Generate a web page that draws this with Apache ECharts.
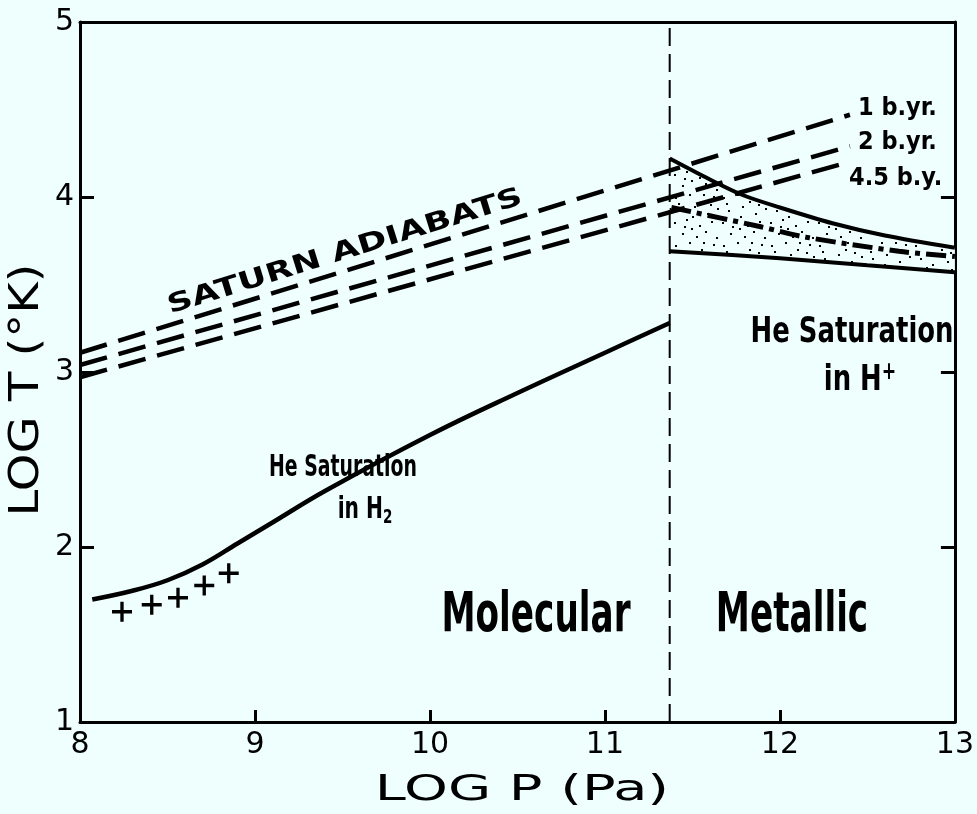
<!DOCTYPE html>
<html><head><meta charset="utf-8">
<script src="https://cdn.jsdelivr.net/npm/echarts@6/dist/echarts.min.js"></script>
<style>html,body{margin:0;padding:0;background:#effffe}#c{width:977px;height:814px}</style>
</head><body><div id="c"></div>
<script>
// ---- data (LOG P in Pa, LOG T in K) ----
const xRange = [8, 13];
const yRange = [1, 5];
const adiabat1by = [[8, 3.11], [12.4, 4.47]];
const adiabat2by = [[8, 3.04], [12.4, 4.29]];
const adiabat45by = [[8, 2.97], [12.36, 4.19]];
const heSatH2 = [[8.07, 1.70], [8.3, 1.75], [8.5, 1.81], [8.7, 1.90], [8.9, 2.02], [9.1, 2.14], [9.4, 2.32], [10, 2.64], [10.5, 2.88], [11, 3.11], [11.37, 3.28]];
const crossPts = [[8.24, 1.63], [8.41, 1.67], [8.56, 1.71], [8.71, 1.78], [8.85, 1.85]];
const transitionP = 11.37;
const heSatUpper = [[11.37, 4.22], [11.6, 4.10], [11.79, 4.01], [12.0, 3.94], [12.3, 3.85], [12.6, 3.78], [13, 3.71]];
const heSatLower = [[11.37, 3.69], [12.0, 3.65], [12.5, 3.61], [13, 3.57]];
const interior45 = [[11.38, 3.94], [11.89, 3.83], [12.15, 3.77], [12.68, 3.69], [13, 3.66]];

const INK = '#000';
const BG = '#effffe';
const narrow = "'Liberation Sans Narrow','DejaVu Sans Condensed','Arial Narrow',sans-serif";

function stipple() {
  const c = document.createElement('canvas');
  c.width = 48; c.height = 48;
  const g = c.getContext('2d');
  g.fillStyle = BG; g.fillRect(0, 0, 48, 48);
  g.fillStyle = '#000';
  const dots = [[3,5],[17,2],[29,9],[41,4],[8,18],[22,14],[35,21],[45,16],[2,30],[14,27],[27,33],[39,29],[10,41],[24,44],[33,39],[44,45],[19,36],[6,11],[31,2],[12,34],[38,12],[20,24]];
  dots.forEach(([x, y]) => g.fillRect(x, y, 2, 2));
  return c;
}

const chart = echarts.init(document.getElementById('c'), null, {renderer: 'canvas'});
const dash = (w, t) => ({color: INK, width: w, type: t});

chart.setOption({
  backgroundColor: BG,
  animation: false,
  grid: {left: 80, right: 14, top: 22, bottom: 92, show: false},
  xAxis: [{
    type: 'value', min: xRange[0], max: xRange[1], interval: 1,
    axisLine: {lineStyle: {color: INK, width: 3}},
    axisTick: {inside: true, length: 12, lineStyle: {color: INK, width: 3}},
    axisLabel: {color: INK, fontSize: 30, margin: 8, fontFamily: 'DejaVu Sans'},
    splitLine: {show: false}
  }, {
    type: 'value', position: 'top', min: xRange[0], max: xRange[1],
    axisLine: {show: true, lineStyle: {color: INK, width: 3}},
    axisTick: {show: false}, axisLabel: {show: false}, splitLine: {show: false}
  }],
  yAxis: [{
    type: 'value', min: yRange[0], max: yRange[1], interval: 1,
    axisLine: {show: true, lineStyle: {color: INK, width: 3}},
    axisTick: {inside: true, length: 14, lineStyle: {color: INK, width: 3}},
    axisLabel: {color: INK, fontSize: 30, margin: 6, fontFamily: 'DejaVu Sans'},
    splitLine: {show: false}
  }, {
    type: 'value', position: 'right', min: yRange[0], max: yRange[1], interval: 1,
    axisLine: {show: true, lineStyle: {color: INK, width: 3}},
    axisTick: {inside: true, length: 14, lineStyle: {color: INK, width: 3}},
    axisLabel: {show: false}, splitLine: {show: false}
  }],
  series: [
    {
      type: 'custom', name: 'band', z: 1,
      data: [0],
      renderItem: function (params, api) {
        const pts = heSatUpper.map(p => api.coord(p))
          .concat(heSatLower.slice().reverse().map(p => api.coord(p)));
        return {type: 'polygon', shape: {points: pts},
          style: {fill: {image: stipple(), repeat: 'repeat'}, stroke: null}};
      }
    },
    {type: 'line', name: '1 b.yr.', data: adiabat1by, symbol: 'none', lineStyle: dash(4.5, [28, 12]), z: 3},
    {type: 'line', name: '2 b.yr.', data: adiabat2by, symbol: 'none', lineStyle: dash(4.5, [28, 12]), z: 3},
    {type: 'line', name: '4.5 b.y.', data: adiabat45by, symbol: 'none', lineStyle: dash(4.5, [28, 12]), z: 3},
    {type: 'line', name: 'He sat H2', data: heSatH2, symbol: 'none', smooth: 0.4, lineStyle: dash(4.5, 'solid'), z: 3},
    {type: 'scatter', name: 'cross', data: crossPts, symbol: 'path://M-1,-6h2v5h5v2h-5v5h-2v-5h-5v-2h5z', symbolSize: 20, itemStyle: {color: INK, opacity: 1}, z: 4},
    {type: 'line', name: 'boundary', data: [[transitionP, yRange[0]], [transitionP, yRange[1]]], symbol: 'none', lineStyle: dash(2, [18, 8]), z: 3},
    {type: 'line', name: 'upper', data: heSatUpper, symbol: 'none', smooth: 0.3, lineStyle: dash(4, 'solid'), z: 3},
    {type: 'line', name: 'lower', data: heSatLower, symbol: 'none', smooth: 0.3, lineStyle: dash(4, 'solid'), z: 3},
    {type: 'line', name: 'interior', data: interior45, symbol: 'none', smooth: 0.3, lineStyle: dash(5, [20, 6, 5, 6]), z: 3}
  ],
  graphic: [
    {type: 'text', x: 28, y: 390, rotation: Math.PI / 2, scaleX: 1.2, z: 10,
      style: {text: 'LOG T (°K)', font: '40px "DejaVu Sans"', fill: INK, align: 'center', verticalAlign: 'middle'}},
    {type: 'text', x: 522, y: 791, scaleX: 1.55, z: 10,
      style: {text: 'LOG P (Pa)', font: '36px "DejaVu Sans"', fill: INK, align: 'center', verticalAlign: 'middle'}},
    {type: 'text', x: 345, y: 252, rotation: 0.302, scaleX: 1.36, z: 10,
      style: {text: 'SATURN ADIABATS', font: 'bold 26px "DejaVu Sans"', fill: INK, align: 'center', verticalAlign: 'middle'}},
    {type: 'text', x: 858, y: 108, z: 10,
      style: {text: '1 b.yr.', font: 'bold 25px ' + narrow, fill: INK, align: 'left', verticalAlign: 'middle'}},
    {type: 'text', x: 858, y: 142, z: 10,
      style: {text: '2 b.yr.', font: 'bold 25px ' + narrow, fill: INK, align: 'left', verticalAlign: 'middle'}},
    {type: 'text', x: 849, y: 178, z: 10,
      style: {text: '4.5 b.y.', font: 'bold 25px ' + narrow, fill: INK, align: 'left', verticalAlign: 'middle'}},
    {type: 'text', x: 343, y: 468, scaleX: 0.7, z: 10,
      style: {text: 'He Saturation', font: 'bold 30px ' + narrow, fill: INK, align: 'center', verticalAlign: 'middle'}},
    {type: 'text', x: 365, y: 510, scaleX: 0.75, z: 10,
      style: {text: 'in H{s|2}', font: 'bold 30px ' + narrow, fill: INK, align: 'center', verticalAlign: 'middle',
        rich: {s: {fontSize: 20, fontWeight: 'bold', fontFamily: narrow, verticalAlign: 'bottom', padding: [16, 0, 0, 0]}}}},
    {type: 'text', x: 852, y: 333, scaleX: 0.8, z: 10,
      style: {text: 'He Saturation', font: 'bold 36px ' + narrow, fill: INK, align: 'center', verticalAlign: 'middle'}},
    {type: 'text', x: 860, y: 381, scaleX: 0.8, z: 10,
      style: {text: 'in H{s|+}', font: 'bold 36px ' + narrow, fill: INK, align: 'center', verticalAlign: 'middle',
        rich: {s: {fontSize: 24, fontWeight: 'bold', fontFamily: narrow, verticalAlign: 'top', padding: [0, 0, 16, 0]}}}},
    {type: 'text', x: 536, y: 616, scaleX: 0.68, z: 10,
      style: {text: 'Molecular', font: 'bold 56px ' + narrow, fill: INK, align: 'center', verticalAlign: 'middle'}},
    {type: 'text', x: 792, y: 616, scaleX: 0.68, z: 10,
      style: {text: 'Metallic', font: 'bold 56px ' + narrow, fill: INK, align: 'center', verticalAlign: 'middle'}}
  ]
});
</script></body></html>
